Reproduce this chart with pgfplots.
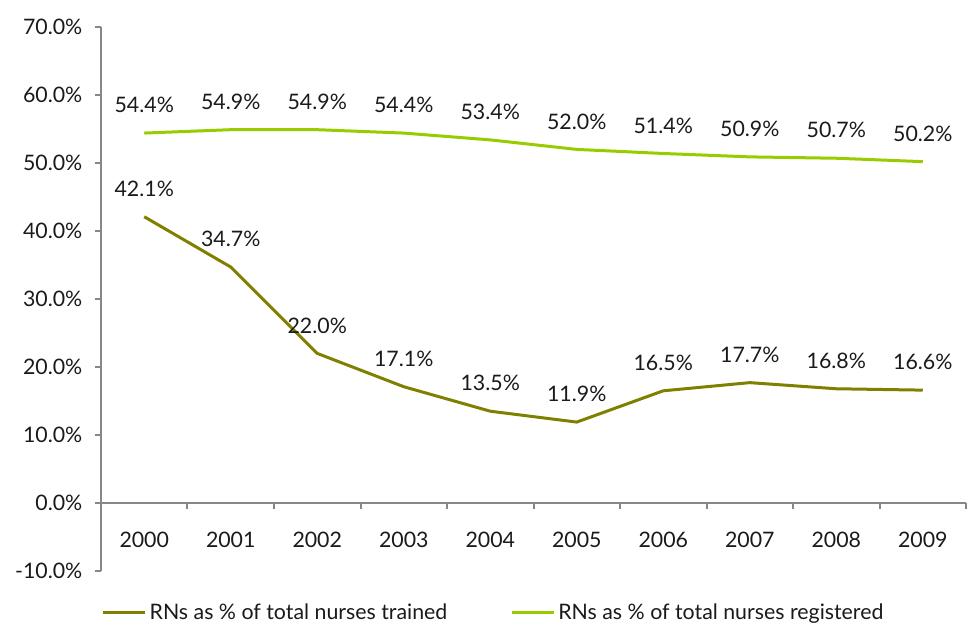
\documentclass[border=0pt]{standalone}
\usepackage{fontspec}
\setmainfont{Lato}
\usepackage{pgfplots}
\pgfplotsset{compat=1.18}
\definecolor{olivec}{HTML}{808000}
\definecolor{lgreen}{HTML}{99CC00}
\definecolor{axgray}{HTML}{878787}
\definecolor{txt}{HTML}{1A1A1A}
\begin{document}
\begin{tikzpicture}
\begin{axis}[
  scale only axis, width=648.75pt, height=408pt,
  xmin=0, xmax=10, ymin=-10, ymax=70,
  axis x line=middle, axis y line=left,
  axis line style={draw=axgray, line width=1.5pt, -},
  xtick={0.5,1.5,...,9.5},
  xticklabels={2000,2001,2002,2003,2004,2005,2006,2007,2008,2009},
  major x tick style={draw=none},
  minor xtick={1,2,...,10},
  ytick={-10,0,...,70},
  tick align=outside,
  major tick length=4.5pt, minor tick length=4.5pt,
  tick style={draw=axgray, line width=1.5pt},
  /pgf/number format/assume math mode=true,
  yticklabel={\pgfmathprintnumber[fixed,fixed zerofill,precision=1]{\tick}\%},
  ticklabel style={font=\fontsize{16}{19}\selectfont, text=txt},
  xticklabel style={yshift=-14pt},
  yticklabel style={xshift=-6pt},
  every node near coord/.append style={anchor=center, yshift=21pt, font=\fontsize{16}{19}\selectfont, text=txt},
  nodes near coords={\pgfmathprintnumber[fixed,fixed zerofill,precision=1]{\pgfplotspointmeta}\%},
  legend style={at={(-0.0046,-0.077)}, anchor=west, draw=none, fill=none,
    font=\fontsize{16}{19}\selectfont, text=txt,
    /tikz/every even column/.append style={column sep=45pt}},
  legend columns=2,
  legend image code/.code={\draw[#1] (0pt,0pt) -- (32pt,0pt);},
  clip=false,
]
\addplot[olivec, line width=2.25pt] coordinates {
  (0.5,42.1) (1.5,34.7) (2.5,22.0) (3.5,17.1) (4.5,13.5)
  (5.5,11.9) (6.5,16.5) (7.5,17.7) (8.5,16.8) (9.5,16.6)};
\addlegendentry{RNs as \% of total nurses trained}
\addplot[lgreen, line width=2.25pt] coordinates {
  (0.5,54.4) (1.5,54.9) (2.5,54.9) (3.5,54.4) (4.5,53.4)
  (5.5,52.0) (6.5,51.4) (7.5,50.9) (8.5,50.7) (9.5,50.2)};
\addlegendentry{RNs as \% of total nurses registered}
\end{axis}
\pgfresetboundingbox
\path (-75.75pt,-41.25pt) rectangle (655.5pt,428.25pt);
\end{tikzpicture}
\end{document}
